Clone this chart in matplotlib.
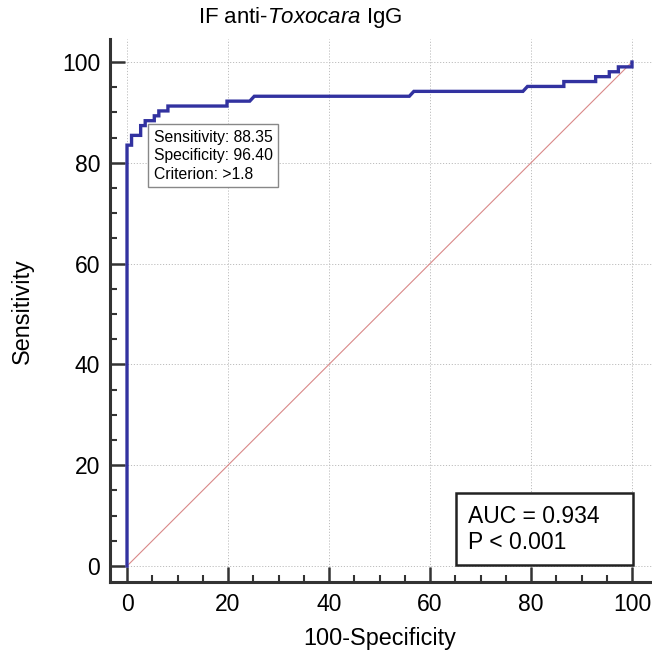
import numpy as np
import matplotlib.pyplot as plt
from matplotlib.patches import Rectangle

# ROC curve vertices (100-Specificity, Sensitivity)
fpr = [0, 0, 0.9, 0.9, 2.7, 2.7, 3.6, 3.6, 5.4, 5.4, 6.3, 6.3, 8.1, 8.1,
       19.8, 19.8, 24.3, 25.2, 55.9, 56.8, 78.4, 79.3, 86.5, 86.5,
       92.8, 92.8, 95.5, 95.5, 97.3, 97.3, 100, 100]
tpr = [0, 83.50, 83.50, 85.44, 85.44, 87.38, 87.38, 88.35, 88.35, 89.32,
       89.32, 90.29, 90.29, 91.26, 91.26, 92.23, 92.23, 93.20, 93.20, 94.17,
       94.17, 95.15, 95.15, 96.12, 96.12, 97.09, 97.09, 98.06, 98.06, 99.03,
       99.03, 100]

ticks = [0, 20, 40, 60, 80, 100]
crit_text = 'Sensitivity: 88.35\nSpecificity: 96.40\nCriterion: >1.8'
auc_text = 'AUC = 0.934\nP < 0.001'

plt.rcParams['font.family'] = ['Liberation Sans', 'DejaVu Sans']
plt.rcParams['mathtext.fontset'] = 'custom'
plt.rcParams['mathtext.rm'] = 'Liberation Sans'
plt.rcParams['mathtext.it'] = 'Liberation Sans:italic'

fig = plt.figure(figsize=(6.52, 6.52), dpi=100)
ax = fig.add_axes([110/652, 70/652, 542/652, 543/652])

ax.set_xlim(-3.37, 103.96)
ax.set_ylim(-3.17, 104.56)

# grid at majors
for t in ticks:
    ax.axvline(t, color='#bdbdbd', lw=0.7, ls=(0, (1.2, 1.8)), zorder=0)
    ax.axhline(t, color='#bdbdbd', lw=0.7, ls=(0, (1.2, 1.8)), zorder=0)

# diagonal reference
ax.plot([0, 100], [0, 100], color='#d98888', lw=0.8, zorder=1)

# ROC curve
ax.plot(fpr, tpr, color='#3232a0', lw=2.4, solid_joinstyle='miter', zorder=3)

for side in ['top', 'right']:
    ax.spines[side].set_visible(False)
for side in ['left', 'bottom']:
    ax.spines[side].set_linewidth(2.2)
    ax.spines[side].set_color('#333333')

ax.set_xticks(ticks)
ax.set_yticks(ticks)
ax.set_xticks(np.arange(0, 101, 5), minor=True)
ax.set_yticks(np.arange(0, 101, 5), minor=True)
ax.tick_params(which='major', direction='in', length=11, width=1.8,
               color='#333333', labelsize=16.5)
ax.tick_params(axis='x', which='major', pad=8)
ax.tick_params(axis='y', which='major', pad=7)
ax.tick_params(which='minor', direction='in', length=5, width=1.5,
               color='#333333')

fig.text(300/652, 1 - 18/652, 'IF anti-$\\it{Toxocara}$ IgG', ha='center',
         va='center', fontsize=16)
fig.text(380/652, 1 - 638/652, '100-Specificity', ha='center', va='center',
         fontsize=16.8)
fig.text(22/652, 1 - 311/652, 'Sensitivity', ha='center', va='center',
         fontsize=16.8, rotation=90)

ax.text(0.081, 0.833, crit_text, transform=ax.transAxes, ha='left', va='top',
        fontsize=11.3, linespacing=1.3, zorder=5,
        bbox=dict(boxstyle='square,pad=0.35', fc='white', ec='#888888', lw=1))

ax.add_patch(Rectangle((0.638, 0.031), 0.327, 0.133, transform=ax.transAxes,
                       fc='white', ec='#222222', lw=1.8, zorder=5))
ax.text(0.661, 0.097, auc_text, transform=ax.transAxes, ha='left',
        va='center', fontsize=16.5, linespacing=1.15, zorder=6)

fig.savefig('out.png', dpi=100)
